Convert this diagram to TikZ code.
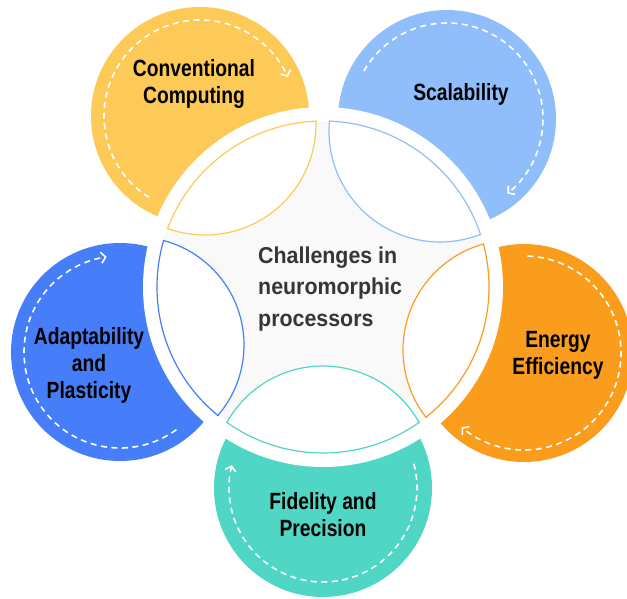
\documentclass[tikz,border=0pt]{standalone}
\usepackage{fontspec}
\setmainfont{Liberation Sans}
\newfontfamily\petalfont[FakeStretch=0.82]{Liberation Sans Bold}
\newfontfamily\centerfont[FakeStretch=0.93]{Liberation Sans Bold}
\usetikzlibrary{arrows.meta}
\definecolor{cyel}{HTML}{FECA57}
\definecolor{clbl}{HTML}{8FBEFA}
\definecolor{cora}{HTML}{FA9D1D}
\definecolor{ctea}{HTML}{50D6C4}
\definecolor{cblu}{HTML}{467DF8}
\definecolor{cgry}{RGB}{249,249,249}
\definecolor{ctxt}{HTML}{363636}
\begin{document}
\begin{tikzpicture}[x=1pt,y=-1pt,
  petaltext/.style={font=\petalfont\fontsize{23.5}{27}\selectfont, align=center, text=black, inner sep=0pt},
  centertext/.style={font=\centerfont\fontsize{23}{31.5}\selectfont, align=left, text=ctxt, inner sep=0pt},
  dashedarc/.style={white, line width=1.6pt, dash pattern=on 6pt off 4.5pt, -{Straight Barb[length=4.5pt,width=11pt]}},
  lensline/.style={line width=1.2pt}]
\clip (0,0) rectangle (627,598);
\fill[white] (0,0) rectangle (627,598);
% centres
\coordinate (C) at (323,287);
\coordinate (Pyel) at (200,116);
\coordinate (Plbl) at (447,119);
\coordinate (Pora) at (524,353);
\coordinate (Ptea) at (323,488);
\coordinate (Pblu) at (120,352);
\coordinate (Lyel) at (205,124);
\coordinate (Llbl) at (440,131);
\coordinate (Lora) at (513,350);
\coordinate (Ltea) at (323,476);
\coordinate (Lblu) at (136,345);
% petals
\fill[cyel] (Pyel) circle[radius=109];
\fill[clbl] (Plbl) circle[radius=109];
\fill[cora] (Pora) circle[radius=109];
\fill[ctea] (Ptea) circle[radius=109];
\fill[cblu] (Pblu) circle[radius=109];
% white ring and central disc
\fill[white] (C) circle[radius=180];
\fill[cgry] (C) circle[radius=166];
% lenses
\foreach \L/\r/\col in {Lyel/111/cyel, Llbl/111/clbl, Lora/110/cora, Ltea/110/ctea, Lblu/108/cblu}{
  \begin{scope}
    \clip (C) circle[radius=166];
    \fill[white] (\L) circle[radius=\r];
  \end{scope}
  \begin{scope}
    \clip (C) circle[radius=166.6];
    \draw[lensline, \col] (\L) circle[radius=\r];
  \end{scope}
  \begin{scope}
    \clip (\L) circle[radius=\r+0.6];
    \draw[lensline, \col] (C) circle[radius=166];
  \end{scope}
}
% dashed arcs
\draw[dashedarc] (Pyel) ++(122:96) arc[start angle=122, end angle=336, radius=96];
\draw[dashedarc] (Plbl) ++(210:96) arc[start angle=210, end angle=411, radius=96];
\draw[dashedarc] (Pora) ++(-88:97) arc[start angle=-88, end angle=130, radius=97];
\draw[dashedarc] (Ptea) ++(-15:94) arc[start angle=-15, end angle=194, radius=94];
\draw[dashedarc] (Pblu) ++(54:96) arc[start angle=54, end angle=262, radius=96];
% texts
\node[petaltext] (tyel) at (194,84) {Conventional\\Computing};
\node[petaltext] (tlbl) at (461,94) {Scalability};
\node[petaltext] (tora) at (558,355) {Energy\\Efficiency};
\node[petaltext] (ttea) at (323,515) {Fidelity and\\Precision};
\node[petaltext] (tblu) at (89,365) {Adaptability\\and\\Plasticity};
\node[centertext, anchor=west] (tc) at (258,289) {Challenges in\\neuromorphic\\processors};
\end{tikzpicture}
\end{document}
